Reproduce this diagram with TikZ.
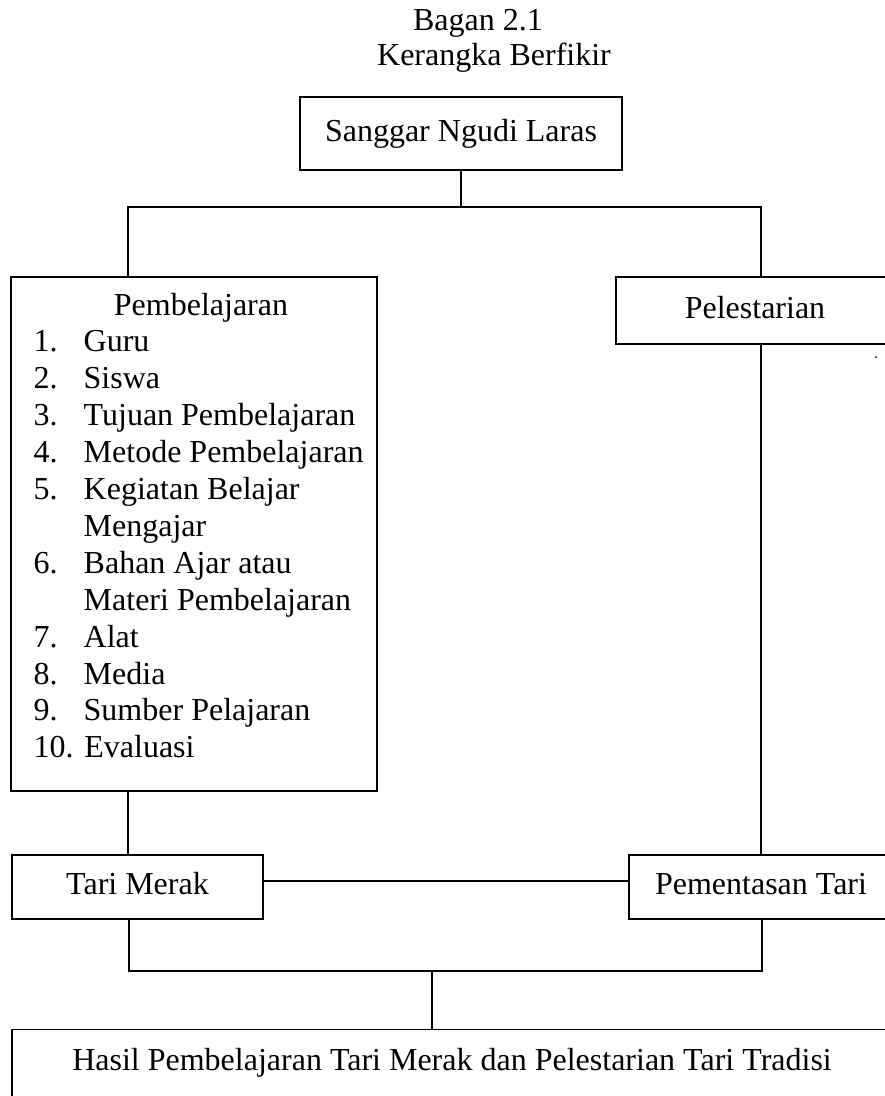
\documentclass[tikz,border=0pt]{standalone}
\usepackage{fontspec}
\setmainfont{Liberation Serif}
\begin{document}
\begin{tikzpicture}[x=1pt,y=-1pt, line width=1.4pt,
  font=\fontsize{32}{37}\selectfont,
  box/.style={draw, rectangle, inner sep=0pt, text height=22pt, text depth=7pt},
  line/.style={inner sep=0pt, anchor=base west},
  ttl/.style={inner sep=0pt, anchor=base}]
\useasboundingbox (0,0) rectangle (885,1096);
\clip (0,0) rectangle (885,1096);

% title
\node[ttl] (t1) at (478,30) {Bagan 2.1};
\node[ttl] (t2) at (494,65) {Kerangka Berfikir};

% boxes
\node[box, minimum width=322pt, minimum height=73pt] (sanggar) at (461,133.5) {Sanggar Ngudi Laras};
\node[draw, rectangle, inner sep=0pt, minimum width=366pt, minimum height=514pt] (pemb) at (194,534) {};
\node[box, minimum width=278pt, minimum height=67pt] (pel) at (755,310.5) {Pelestarian};
\node[box, minimum width=251pt, minimum height=64pt] (tari) at (137.5,887) {Tari Merak};
\node[box, minimum width=264pt, minimum height=64pt] (pement) at (761,887) {Pementasan Tari};
\node[draw, rectangle, anchor=north, inner sep=0pt, minimum width=880pt,
      text height=41pt, text depth=50pt] (hasil) at (452,1029)
      {Hasil Pembelajaran Tari Merak dan Pelestarian Tari Tradisi};

% contents of Pembelajaran
\node[ttl] (head) at (201,315) {Pembelajaran};
\node[line] (n1) at (33,351.9) {1.};  \node[line] (i1) at (83,351.9) {Guru};
\node[line] (n2) at (33,388.8) {2.};  \node[line] (i2) at (83,388.8) {Siswa};
\node[line] (n3) at (33,425.7) {3.};  \node[line] (i3) at (83,425.7) {Tujuan Pembelajaran};
\node[line] (n4) at (33,462.6) {4.};  \node[line] (i4) at (83,462.6) {Metode Pembelajaran};
\node[line] (n5) at (33,499.5) {5.};  \node[line] (i5) at (83,499.5) {Kegiatan Belajar};
\node[line] (i5b) at (83,536.4) {Mengajar};
\node[line] (n6) at (33,573.3) {6.};  \node[line] (i6) at (83,573.3) {Bahan Ajar atau};
\node[line] (i6b) at (83,610.2) {Materi Pembelajaran};
\node[line] (n7) at (33,647.1) {7.};  \node[line] (i7) at (83,647.1) {Alat};
\node[line] (n8) at (33,684.0) {8.};  \node[line] (i8) at (83,684.0) {Media};
\node[line] (n9) at (33,720.9) {9.};  \node[line] (i9) at (83,720.9) {Sumber Pelajaran};
\node[line] (n10) at (33,757.8) {10. Evaluasi};

% junction coordinates
\coordinate (a1) at (128,207);
\coordinate (a2) at (761,207);
\coordinate (m)  at (0,881);
\coordinate (b1) at (129,971);
\coordinate (b2) at (762,971);
\coordinate (bc) at (432,971);

% connectors
\draw (sanggar.south) -- (sanggar.south |- a1);
\draw (a1 |- pemb.north) -- (a1) -- (a2) -- (a2 |- pel.north);
\draw (a2 |- pel.south) -- (a2 |- pement.north);
\draw (a1 |- pemb.south) -- (a1 |- tari.north);
\draw (tari.east |- m) -- (pement.west |- m);
\draw (b1 |- tari.south) -- (b1) -- (b2) -- (b2 |- pement.south);
\draw (bc) -- (bc |- hasil.north);

% stray dot
\fill (876,357) circle (1pt);
\end{tikzpicture}
\end{document}
